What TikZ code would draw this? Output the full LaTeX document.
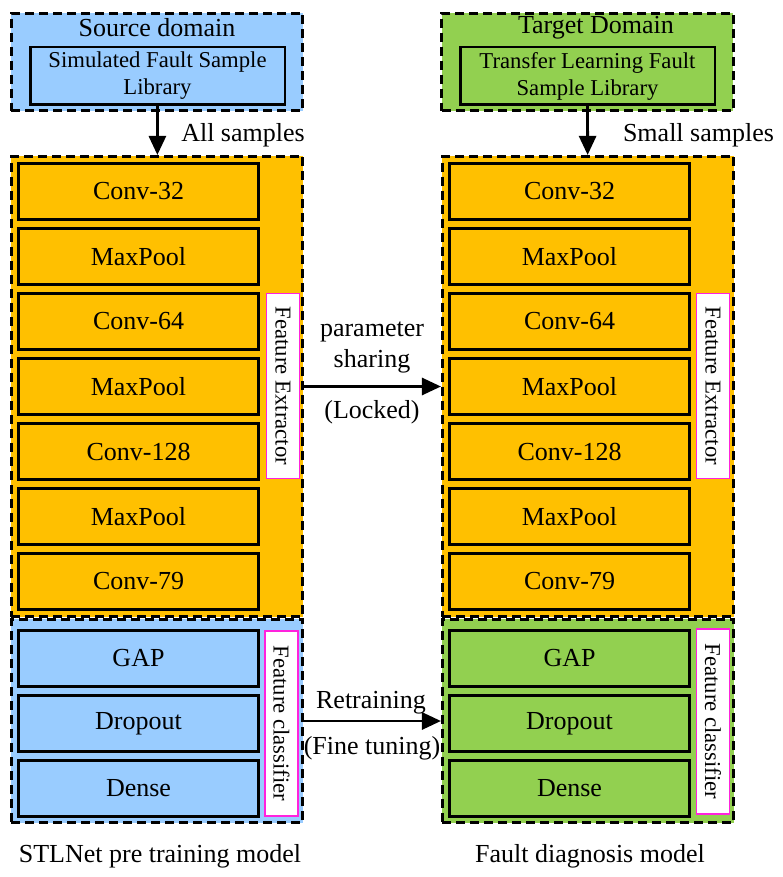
\documentclass[tikz,border=0pt]{standalone}
\usepackage{fontspec}
\setmainfont{Liberation Serif}
\usepackage{tikz}
\usetikzlibrary{arrows.meta}
\definecolor{srcblue}{HTML}{99CCFF}
\definecolor{extorange}{HTML}{FFC000}
\definecolor{tgtgreen}{HTML}{92D050}
\definecolor{tagpink}{HTML}{FF22DD}
\newcommand{\fsbig}{\fontsize{26}{31}\selectfont}
\newcommand{\fssmall}{\fontsize{22.7}{27}\selectfont}

\tikzset{
  group/.style={draw, dash pattern=on 9pt off 5pt, line width=2.6pt, minimum width=291.5pt, inner sep=0pt},
  layer/.style={draw, line width=2.6pt, minimum width=240.5pt, minimum height=56.5pt, inner sep=0pt, font=\fsbig},
  lib/.style={draw, line width=2.5pt, minimum width=254.5pt, minimum height=57.5pt, inner sep=0pt, align=center, font=\fssmall},
  tag/.style={draw=tagpink, line width=1.2pt, fill=white, rotate=-90, minimum width=185pt, minimum height=33pt, inner sep=0pt, font=\fssmall},
  flow/.style={-{Triangle[length=19pt,width=17pt]}, line width=2.8pt},
}

\begin{document}
\begin{tikzpicture}[x=1pt,y=-1pt]
    \useasboundingbox (0,0) rectangle (782,877);
    % source side
    \node[group, fill=srcblue, minimum height=97.5pt] (src) at (157,62) {};
    \node[font=\fsbig] (src_title) at (157,28) {Source domain};
    \node[lib, fill=srcblue] (src_lib) at (157.5,76) {Simulated Fault Sample\\Library};
    \node[group, fill=extorange, minimum height=460.5pt] (l_ext) at (157,386.5) {};
    \node[group, fill=srcblue, minimum height=203.5pt] (l_cls) at (157,721) {};
    \node[layer, fill=extorange] (l_conv32) at (138.5,191.5) {Conv-32};
    \node[layer, fill=extorange] (l_pool1) at (138.5,256.5) {MaxPool};
    \node[layer, fill=extorange] (l_conv64) at (138.5,321.5) {Conv-64};
    \node[layer, fill=extorange] (l_pool2) at (138.5,386.5) {MaxPool};
    \node[layer, fill=extorange] (l_conv128) at (138.5,451.5) {Conv-128};
    \node[layer, fill=extorange] (l_pool3) at (138.5,516.5) {MaxPool};
    \node[layer, fill=extorange] (l_conv79) at (138.5,581.5) {Conv-79};
    \node[layer, fill=srcblue] (l_gap) at (138.5,658.5) {GAP};
    \node[layer, fill=srcblue] (l_drop) at (138.5,723.5) {Dropout};
    \node[layer, fill=srcblue] (l_dense) at (138.5,788.5) {Dense};
    \node[tag] (l_ext_tag) at (283,386) {Feature Extractor};
    \node[tag] (l_cls_tag) at (281.5,723.5) {Feature classifier};
    \node[font=\fsbig] (all_lbl) at (243,135) {All samples};
    \node[font=\fsbig] (cap_src) at (160,856) {STLNet pre training model};
    % target side
    \node[group, fill=tgtgreen, minimum height=97.5pt] (tgt) at (587.5,62) {};
    \node[font=\fsbig] (tgt_title) at (596,28) {Target Domain};
    \node[lib, fill=tgtgreen] (tgt_lib) at (587.5,76) {Transfer Learning Fault\\Sample Library};
    \node[group, fill=extorange, minimum height=460.5pt] (r_ext) at (588,386.5) {};
    \node[group, fill=tgtgreen, minimum height=203.5pt] (r_cls) at (588,721) {};
    \node[layer, fill=extorange] (r_conv32) at (569.5,191.5) {Conv-32};
    \node[layer, fill=extorange] (r_pool1) at (569.5,256.5) {MaxPool};
    \node[layer, fill=extorange] (r_conv64) at (569.5,321.5) {Conv-64};
    \node[layer, fill=extorange] (r_pool2) at (569.5,386.5) {MaxPool};
    \node[layer, fill=extorange] (r_conv128) at (569.5,451.5) {Conv-128};
    \node[layer, fill=extorange] (r_pool3) at (569.5,516.5) {MaxPool};
    \node[layer, fill=extorange] (r_conv79) at (569.5,581.5) {Conv-79};
    \node[layer, fill=tgtgreen] (r_gap) at (569.5,658.5) {GAP};
    \node[layer, fill=tgtgreen] (r_drop) at (569.5,723.5) {Dropout};
    \node[layer, fill=tgtgreen] (r_dense) at (569.5,788.5) {Dense};
    \node[tag] (r_ext_tag) at (713,386) {Feature Extractor};
    \node[tag] (r_cls_tag) at (713,721.5) {Feature classifier};
    \node[font=\fsbig] (small_lbl) at (698.5,135) {Small samples};
    \node[font=\fsbig] (cap_tgt) at (590,856) {Fault diagnosis model};
    % transfer labels
    \node[font=\fsbig, align=center] (share_lbl) at (372,347) {parameter\\sharing};
    \node[font=\fsbig] (lock_lbl) at (372,412) {(Locked)};
    \node[font=\fsbig] (retrain_lbl) at (371,703) {Retraining};
    \node[font=\fsbig] (fine_lbl) at (372,748) {(Fine tuning)};
    \draw[flow] (src_lib) -- (l_ext);
    \draw[flow] (tgt_lib) -- (r_ext);
    \draw[flow] (l_ext) -- (r_ext);
    \draw[flow] (l_cls) -- (r_cls);
  \end{tikzpicture}
\end{document}
